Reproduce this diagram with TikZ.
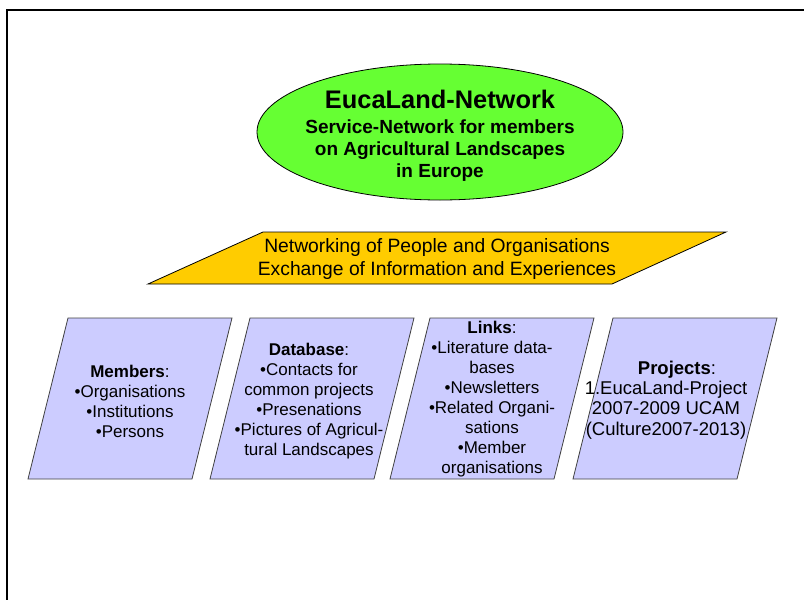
\documentclass[tikz,border=0pt]{standalone}
\usepackage{fontspec}
\setmainfont{Liberation Sans}
\usetikzlibrary{shapes.geometric}
\definecolor{eucgreen}{HTML}{66FF33}
\definecolor{eucyellow}{HTML}{FFCC00}
\definecolor{euclav}{HTML}{CCCCFF}
\begin{document}
\begin{tikzpicture}[x=1pt,y=-1pt,
  frameline/.style={line width=2pt,black},
  ovalstyle/.style={ellipse,draw=black,line width=0.8pt,fill=eucgreen,inner sep=0pt},
  bandstyle/.style={draw=black,line width=0.8pt,fill=eucyellow,line join=miter},
  boxstyle/.style={draw=black!75,line width=0.8pt,fill=euclav,line join=miter},
  titletext/.style={font=\fontsize{25.4}{28}\selectfont\bfseries,inner sep=0pt},
  subtext/.style={align=center,font=\fontsize{19}{22}\selectfont\bfseries,inner sep=0pt},
  bandtext/.style={align=center,font=\fontsize{19.3}{23}\selectfont,inner sep=0pt},
  boxtext/.style={align=center,font=\fontsize{17}{20}\selectfont,inner sep=0pt},
  bigboxtext/.style={align=center,font=\fontsize{18.5}{20.4}\selectfont,inner sep=0pt}]
\useasboundingbox (0,0) rectangle (804,600);
% frame
\coordinate (frTR) at (804,10.3);
\coordinate (frTL) at (7,10.3);
\coordinate (frBL) at (7,600);
\draw[frameline] (frTR) -- (frTL) -- (frBL);
% ellipse
\node[ovalstyle,minimum width=366pt,minimum height=136pt] (net) at (440,132) {};
\node[titletext,anchor=base] (nettitle) at (440,108) {EucaLand-Network};
\node[subtext,anchor=north] (netsub) at (440,119.5) {Service-Network for members\\on Agricultural Landscapes\\in Europe};
% yellow band
\coordinate (b1) at (263,232);
\coordinate (b2) at (726,232);
\coordinate (b3) at (612,284);
\coordinate (b4) at (148,284);
\draw[bandstyle] (b1) -- (b2) -- (b3) -- (b4) -- cycle;
\node[bandtext] (bandlabel) at (437,259) {Networking of People and Organisations\\Exchange of Information and Experiences};
% four boxes
\foreach \n/\x in {1/68,2/250,3/430,4/613}{
  \coordinate (p\n a) at (\x,318);
  \coordinate (p\n b) at (\x+164,318);
  \coordinate (p\n c) at (\x+124,479);
  \coordinate (p\n d) at (\x-40,479);
  \draw[boxstyle] (p\n a) -- (p\n b) -- (p\n c) -- (p\n d) -- cycle;
}
\node[boxtext] (members) at (130,401) {\textbf{Members}:\\•Organisations\\•Institutions\\•Persons};
\node[boxtext] (database) at (309,401.5) {\textbf{Database}:\\•Contacts for\\common projects\\•Presenations\\•Pictures of Agricul-\\tural Landscapes};
\node[boxtext] (links) at (492,398.6) {\textbf{Links}:\\•Literature data-\\bases\\•Newsletters\\•Related Organi-\\sations\\•Member\\organisations};
\node[bigboxtext] (projects) at (666,400) {\hspace*{22pt}\textbf{Projects}:\\1.EucaLand-Project\\2007-2009 UCAM\\(Culture2007-2013)};
\end{tikzpicture}
\end{document}
